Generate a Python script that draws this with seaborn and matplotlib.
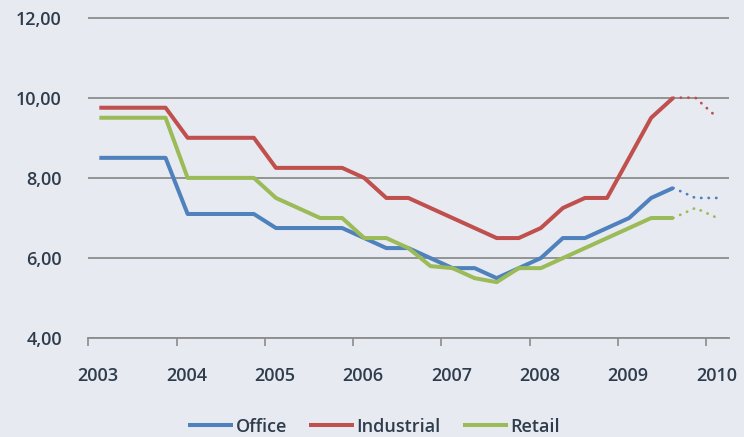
import matplotlib
matplotlib.use("Agg")
import matplotlib.pyplot as plt
import numpy as np
import pandas as pd
import seaborn as sns
from matplotlib.transforms import ScaledTranslation
from matplotlib.ticker import FuncFormatter

# ---------------- data ----------------
quarters = pd.period_range("2003Q1", "2009Q3", freq="Q")
forecast_quarters = pd.period_range("2009Q3", "2010Q1", freq="Q")

office = [8.5, 8.5, 8.5, 8.5, 7.1, 7.1, 7.1, 7.1, 6.75, 6.75, 6.75, 6.75,
          6.5, 6.25, 6.25, 6.0, 5.75, 5.75, 5.5, 5.75, 6.0, 6.5, 6.5, 6.75,
          7.0, 7.5, 7.75]
industrial = [9.75, 9.75, 9.75, 9.75, 9.0, 9.0, 9.0, 9.0, 8.25, 8.25, 8.25, 8.25,
              8.0, 7.5, 7.5, 7.25, 7.0, 6.75, 6.5, 6.5, 6.75, 7.25, 7.5, 7.5,
              8.5, 9.5, 10.0]
retail = [9.5, 9.5, 9.5, 9.5, 8.0, 8.0, 8.0, 8.0, 7.5, 7.25, 7.0, 7.0,
          6.5, 6.5, 6.25, 5.8, 5.75, 5.5, 5.4, 5.75, 5.75, 6.0, 6.25, 6.5,
          6.75, 7.0, 7.0]

office_fc = [7.75, 7.5, 7.5]
industrial_fc = [10.0, 10.0, 9.5]
retail_fc = [7.0, 7.25, 7.0]

series_names = ["Office", "Industrial", "Retail"]
year_ticks = [2003, 2004, 2005, 2006, 2007, 2008, 2009, 2010]
y_ticks = [4, 6, 8, 10, 12]

colors = {"Office": "#4f81bd", "Industrial": "#c0504d", "Retail": "#9bbb59"}


def to_decimal(periods):
    return [p.year + (p.quarter - 0.5) / 4 for p in periods]


hist = pd.DataFrame({
    "x": to_decimal(quarters) * 3,
    "value": office + industrial + retail,
    "series": ["Office"] * len(office) + ["Industrial"] * len(industrial) + ["Retail"] * len(retail),
})
fc = pd.DataFrame({
    "x": to_decimal(forecast_quarters) * 3,
    "value": office_fc + industrial_fc + retail_fc,
    "series": ["Office"] * 3 + ["Industrial"] * 3 + ["Retail"] * 3,
})

# ---------------- style ----------------
bg = "#e7ebf1"
text_color = "#2f3c4c"
grid_color = "#8c8c8c"

sns.set_theme(style="white")
plt.rcParams["font.family"] = ["Open Sans", "DejaVu Sans"]

fig = plt.figure(figsize=(7.44, 4.37), dpi=100, facecolor=bg)
ax = fig.add_axes([88.3 / 744, 1 - 338.3 / 437, (729 - 88.3) / 744, (338.3 - 15.5) / 437])
ax.set_facecolor(bg)

sns.lineplot(data=hist, x="x", y="value", hue="series", hue_order=series_names,
             palette=colors, linewidth=2.9, ax=ax, legend=True, sort=False,
             solid_capstyle="butt")
for name in series_names:
    sub = fc[fc["series"] == name]
    sns.lineplot(data=sub, x="x", y="value", color=colors[name], linewidth=2.0,
                 ax=ax, legend=False, dashes=False, sort=False)
    ax.lines[-1].set_linestyle((0, (0.1, 2.6)))
    ax.lines[-1].set_dash_capstyle("round")

ax.set_xlim(2003, 2002 + 729 / 88.3)
ax.set_ylim(4, 12.05)
ax.set_xticks(year_ticks)
ax.set_xticklabels([str(y) for y in year_ticks])
ax.set_yticks(y_ticks)
ax.yaxis.set_major_formatter(FuncFormatter(lambda v, p: f"{v:.2f}".replace(".", ",")))
ax.set_xlabel("")
ax.set_ylabel("")

ax.grid(axis="y", color=grid_color, linewidth=1.3)
ax.grid(axis="x", visible=False)
for s in ["left", "right", "top"]:
    ax.spines[s].set_visible(False)
ax.spines["bottom"].set_color(grid_color)
ax.spines["bottom"].set_linewidth(1.3)

ax.tick_params(axis="y", length=0, pad=19, labelsize=13, labelcolor=text_color)
ax.tick_params(axis="x", direction="out", length=6, width=1.2, color=grid_color,
               pad=15, labelsize=13, labelcolor=text_color, bottom=True)
for lab in ax.get_yticklabels() + ax.get_xticklabels():
    lab.set_fontweight("semibold")
offset = ScaledTranslation(10 / 100, 0, fig.dpi_scale_trans)
for lab in ax.get_xticklabels():
    lab.set_transform(lab.get_transform() + offset)

handles, labels = ax.get_legend_handles_labels()
leg = fig.legend(handles[:3], labels[:3], loc="center", ncol=3, frameon=False,
                 bbox_to_anchor=(374 / 744, 1 - 426.5 / 437),
                 handlelength=2.5, handletextpad=0.15, columnspacing=1.2,
                 prop={"size": 13, "weight": "semibold"})
for t in leg.get_texts():
    t.set_color(text_color)
for h in leg.legend_handles:
    h.set_linewidth(2.9)
if ax.get_legend():
    ax.get_legend().remove()

fig.savefig("out.png", dpi=100, facecolor=bg)
